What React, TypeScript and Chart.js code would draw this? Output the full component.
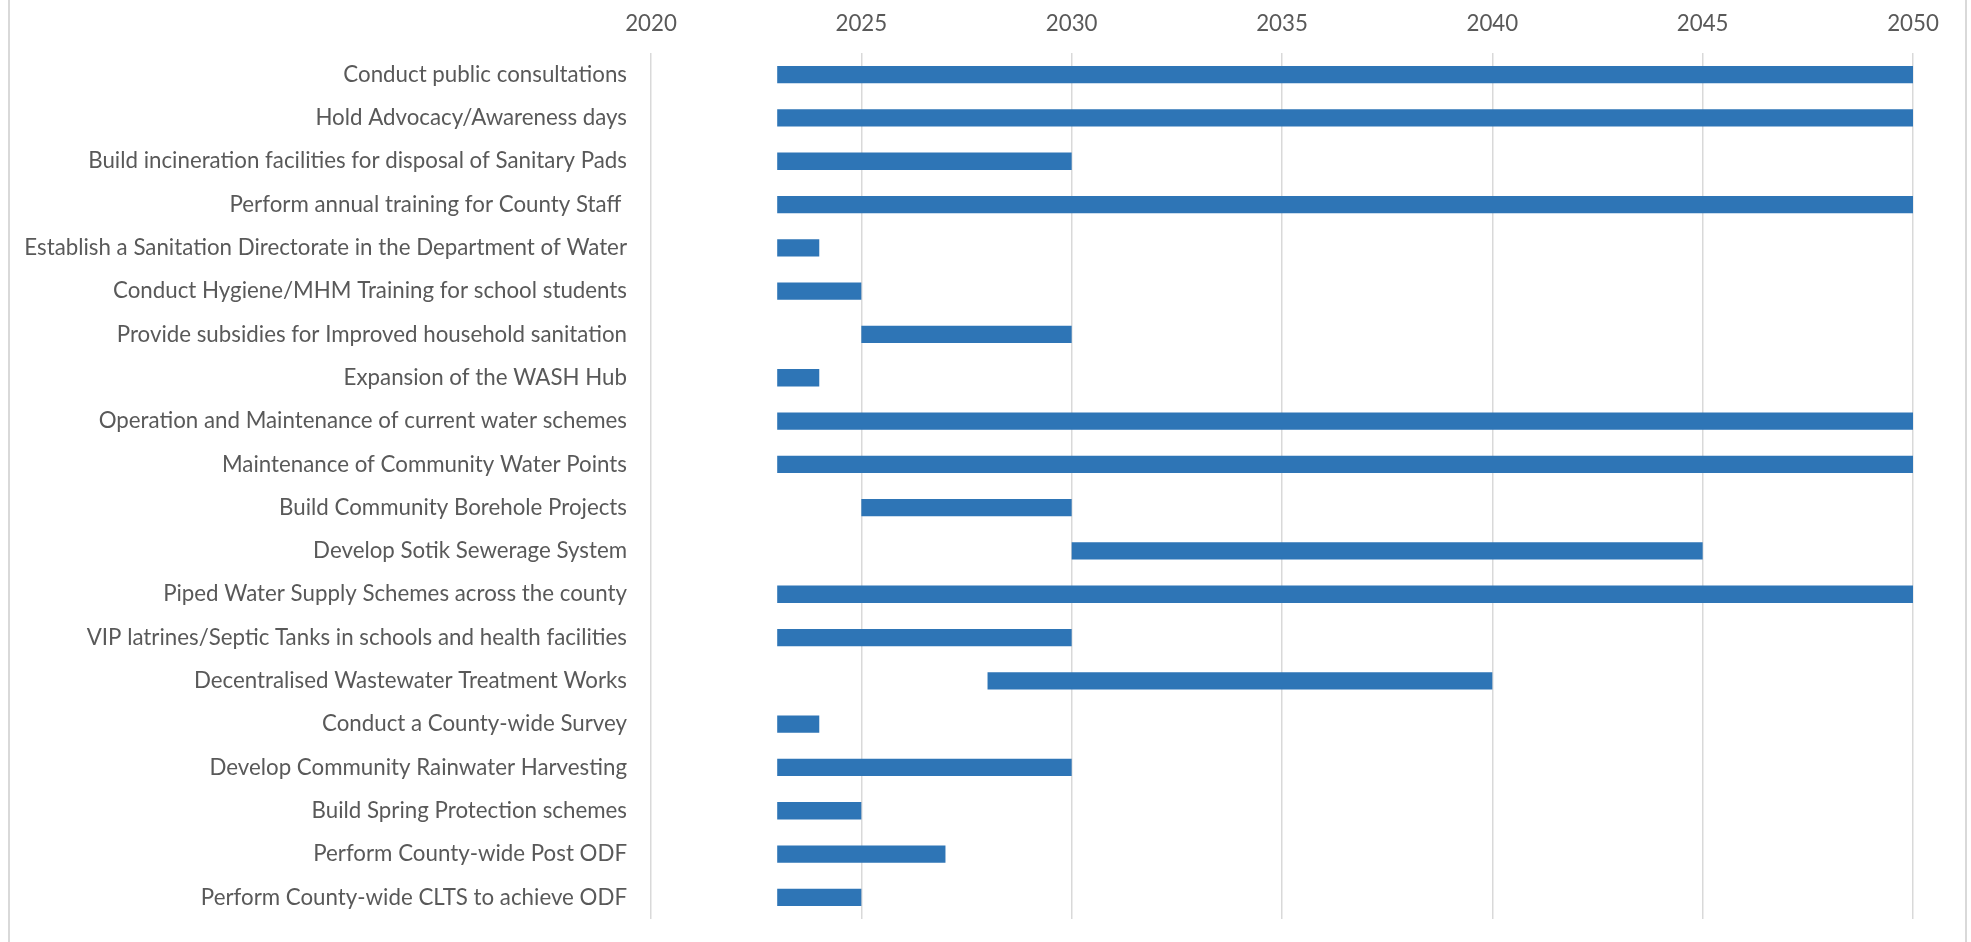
import React, { useEffect, useRef } from "react";
import { Chart, registerables } from "chart.js";

Chart.register(...registerables);

const categories: string[] = [
  "Conduct public consultations",
  "Hold Advocacy/Awareness days",
  "Build incineration facilities for disposal of Sanitary Pads",
  "Perform annual training for County Staff ",
  "Establish a Sanitation Directorate in the Department of Water",
  "Conduct Hygiene/MHM Training for school students",
  "Provide subsidies for Improved household sanitation",
  "Expansion of the WASH Hub",
  "Operation and Maintenance of current water schemes",
  "Maintenance of Community Water Points",
  "Build Community Borehole Projects",
  "Develop Sotik Sewerage System",
  "Piped Water Supply Schemes across the county",
  "VIP latrines/Septic Tanks in schools and health facilities",
  "Decentralised Wastewater Treatment Works",
  "Conduct a County-wide Survey",
  "Develop Community Rainwater Harvesting",
  "Build Spring Protection schemes",
  "Perform County-wide Post ODF",
  "Perform County-wide CLTS to achieve ODF",
];

const startYears: number[] = [
  2023, 2023, 2023, 2023, 2023, 2023, 2025, 2023, 2023, 2023,
  2025, 2030, 2023, 2023, 2028, 2023, 2023, 2023, 2023, 2023,
];

const endYears: number[] = [
  2050, 2050, 2030, 2050, 2024, 2025, 2030, 2024, 2050, 2050,
  2030, 2045, 2050, 2030, 2040, 2024, 2030, 2025, 2027, 2025,
];

const axisMin = 2020;
const axisMax = 2050;
const axisStep = 5;

const FONT = "Lato, 'Open Sans', sans-serif";

export default function App() {
  const ref = useRef<HTMLCanvasElement | null>(null);

  useEffect(() => {
    if (!ref.current) return;
    const data = categories.map((_, i) => [startYears[i], endYears[i]]);
    const chart = new Chart(ref.current, {
      type: "bar",
      data: {
        labels: categories,
        datasets: [
          {
            data: data as any,
            backgroundColor: "#2E75B6",
            borderWidth: 0,
            barPercentage: 0.4,
            categoryPercentage: 1,
          },
        ],
      },
      options: {
        indexAxis: "y",
        animation: false,
        responsive: false,
        maintainAspectRatio: false,
        layout: { padding: { left: 0, right: 52, top: 0, bottom: 23 } },
        plugins: {
          legend: { display: false },
          tooltip: { enabled: false },
        },
        scales: {
          x: {
            type: "linear",
            position: "top",
            min: axisMin,
            max: axisMax,
            ticks: {
              stepSize: axisStep,
              color: "#595959",
              font: { family: FONT, size: 22.3 },
              padding: 16,
              callback: (v: any) => String(v),
            },
            grid: {
              color: "#D9D9D9",
              lineWidth: 1.5,
              drawTicks: false,
            },
            border: { display: false },
            afterFit: (scale: any) => {
              scale.height = 53;
            },
          },
          y: {
            type: "category",
            ticks: {
              color: "#595959",
              font: { family: FONT, size: 22.3 },
              padding: 24,
              autoSkip: false,
            },
            grid: { display: false, drawTicks: false },
            border: { display: false },
            afterFit: (scale: any) => {
              scale.width = 641;
              scale.paddingTop = 0;
              scale.paddingBottom = 0;
            },
          },
        },
      },
    });
    return () => chart.destroy();
  }, []);

  return (
    <div
      style={{
        position: "absolute",
        left: 8,
        top: 0,
        width: 1959,
        height: 942,
        boxSizing: "border-box",
        borderLeft: "2px solid #D9D9D9",
        borderRight: "2px solid #D9D9D9",
        background: "#ffffff",
      }}
    >
      <canvas ref={ref} width={1955} height={942} style={{ display: "block" }} />
    </div>
  );
}
